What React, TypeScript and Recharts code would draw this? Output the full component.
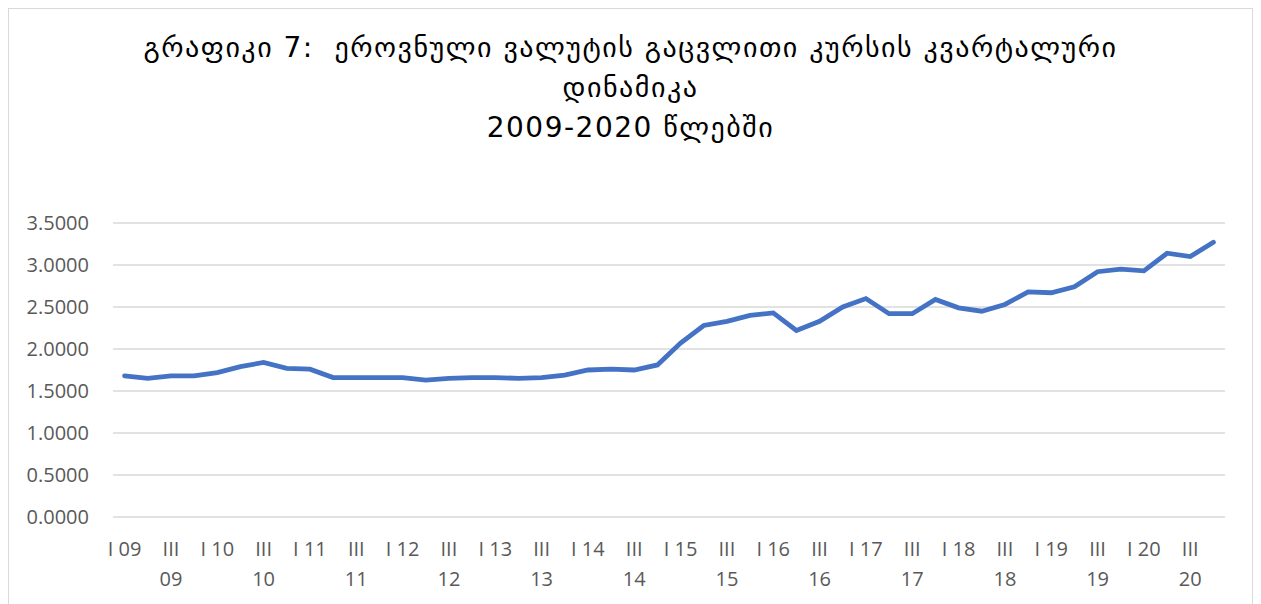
import React from 'react';
import { LineChart, Line, XAxis, YAxis, CartesianGrid } from 'recharts';

const TITLE_LINES = [
  'გრაფიკი 7:  ეროვნული ვალუტის გაცვლითი კურსის კვარტალური',
  'დინამიკა',
  '2009-2020 წლებში',
];

const YEARS = ['09', '10', '11', '12', '13', '14', '15', '16', '17', '18', '19', '20'];
const QUARTERS = ['I', 'II', 'III', 'IV'];

// GEL per EUR, quarterly averages
const RATES = [
  1.68, 1.65, 1.68, 1.68,
  1.72, 1.79, 1.84, 1.77,
  1.76, 1.66, 1.66, 1.66,
  1.66, 1.63, 1.65, 1.66,
  1.66, 1.65, 1.66, 1.69,
  1.75, 1.76, 1.75, 1.81,
  2.07, 2.28, 2.33, 2.40,
  2.43, 2.22, 2.33, 2.50,
  2.60, 2.42, 2.42, 2.59,
  2.49, 2.45, 2.53, 2.68,
  2.67, 2.74, 2.92, 2.95,
  2.93, 3.14, 3.10, 3.27,
];

const Y_TICKS = [0, 0.5, 1, 1.5, 2, 2.5, 3, 3.5];

const data = RATES.map((rate, i) => ({
  label: `${QUARTERS[i % 4]} ${YEARS[Math.floor(i / 4)]}`,
  rate,
}));

const FONT = '"Open Sans", "Liberation Sans", sans-serif';

const QuarterTick = (props: any) => {
  const { x, y, payload } = props;
  const text: string = payload.value;
  // long labels ("III 09") wrap onto two lines like Excel does
  const lines = text.startsWith('III') ? text.split(' ') : [text];
  return (
    <g>
      {lines.map((l, k) => (
        <text
          key={k}
          x={x}
          y={y + 15 + k * 30}
          textAnchor="middle"
          fill="#595959"
          fontSize={20}
          fontFamily={FONT}
        >
          {l}
        </text>
      ))}
    </g>
  );
};

export default function App() {
  return (
    <div
      style={{
        position: 'relative',
        width: 1243,
        height: 620,
        border: '1px solid #d9d9d9',
        background: '#fff',
      }}
    >
      <div
        style={{
          position: 'absolute',
          top: 19,
          left: 0,
          width: 1243,
          textAlign: 'center',
          fontFamily: '"DejaVu Sans", sans-serif',
          fontSize: 28,
          letterSpacing: 1.5,
          lineHeight: '40px',
          color: '#000',
          whiteSpace: 'pre',
        }}
      >
        {TITLE_LINES.map((t, i) => (
          <div key={i}>{t}</div>
        ))}
      </div>
      <LineChart
        width={1243}
        height={600}
        data={data}
        margin={{ top: 214, right: 27, bottom: 0, left: 0 }}
      >
        <CartesianGrid vertical={false} stroke="#d9d9d9" strokeWidth={1.5} />
        <XAxis
          dataKey="label"
          interval={1}
          axisLine={false}
          tickLine={false}
          tickSize={0}
          tickMargin={24}
          padding={{ left: 11.6, right: 11.6 }}
          tick={<QuarterTick />}
          height={92}
        />
        <YAxis
          domain={[0, 3.5]}
          ticks={Y_TICKS}
          width={104}
          axisLine={false}
          tickLine={false}
          tickSize={0}
          tickMargin={24}
          tickFormatter={(v: number) => v.toFixed(4)}
          tick={{ fill: '#595959', fontSize: 20, fontFamily: FONT }}
        />
        <Line
          type="linear"
          dataKey="rate"
          stroke="#4472C4"
          strokeWidth={4.8}
          dot={false}
          strokeLinecap="round"
          isAnimationActive={false}
        />
      </LineChart>
    </div>
  );
}
